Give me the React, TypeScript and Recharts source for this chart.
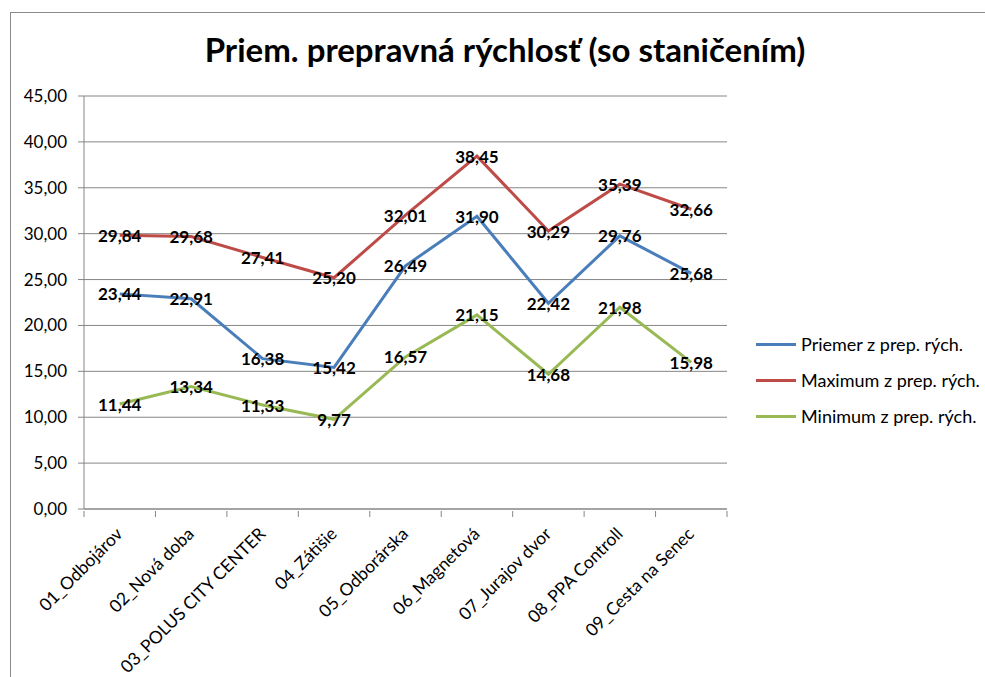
import React from "react";
import {
  LineChart,
  Line,
  XAxis,
  YAxis,
  CartesianGrid,
  Legend,
  LabelList,
} from "recharts";

const stops = [
  "01_Odbojárov",
  "02_Nová doba",
  "03_POLUS CITY CENTER",
  "04_Zátišie",
  "05_Odborárska",
  "06_Magnetová",
  "07_Jurajov dvor",
  "08_PPA Controll",
  "09_Cesta na Senec",
];
const priemer = [23.44, 22.91, 16.38, 15.42, 26.49, 31.9, 22.42, 29.76, 25.68];
const maximum = [29.84, 29.68, 27.41, 25.2, 32.01, 38.45, 30.29, 35.39, 32.66];
const minimum = [11.44, 13.34, 11.33, 9.77, 16.57, 21.15, 14.68, 21.98, 15.98];
const yTicks = [0, 5, 10, 15, 20, 25, 30, 35, 40, 45];

const series = [
  { key: "priemer", name: "Priemer z prep. rých.", color: "#4A7EBB" },
  { key: "maximum", name: "Maximum z prep. rých.", color: "#BE4B48" },
  { key: "minimum", name: "Minimum z prep. rých.", color: "#98B954" },
];

const data = stops.map((s, i) => ({
  stop: s,
  priemer: priemer[i],
  maximum: maximum[i],
  minimum: minimum[i],
}));

const FONT = "Lato, 'Open Sans', sans-serif";
const fmt = (v: number) => v.toFixed(2).replace(".", ",");

// plot area: x 84..727, y 96..509
const PLOT_W = 643;
const BAND = PLOT_W / stops.length;

const CatTick = (props: any) => {
  const { x, y, payload, index } = props;
  const last = index === stops.length - 1;
  return (
    <g>
      <line x1={x - BAND / 2} y1={y} x2={x - BAND / 2} y2={y + 6} stroke="#868686" />
      {last && <line x1={x + BAND / 2} y1={y} x2={x + BAND / 2} y2={y + 6} stroke="#868686" />}
      <text
        transform={`translate(${x + 4},${y + 24}) rotate(-45)`}
        textAnchor="end"
        fontSize={17.5}
        fontFamily={FONT}
        fill="#000"
      >
        {payload.value}
      </text>
    </g>
  );
};

const ValueLabel = (props: any) => {
  const { x, y, value } = props;
  return (
    <text
      x={x}
      y={y}
      textAnchor="middle"
      dominantBaseline="central"
      fontSize={17}
      fontWeight="bold"
      fontFamily={FONT}
      fill="#000"
    >
      {fmt(value)}
    </text>
  );
};

const LegendBox = () => (
  <div style={{ fontFamily: FONT, fontSize: 18, color: "#000" }}>
    {series.map((s) => (
      <div key={s.key} style={{ display: "flex", alignItems: "center", height: 36 }}>
        <div style={{ width: 40, height: 3, background: s.color, marginRight: 5 }} />
        <span>{s.name}</span>
      </div>
    ))}
  </div>
);

export default function App() {
  return (
    <div
      style={{
        position: "absolute",
        left: 0,
        top: 0,
        width: 985,
        height: 677,
        overflow: "hidden",
        background: "#fff",
      }}
    >
      <div
        style={{
          position: "absolute",
          left: 10,
          top: 12,
          width: 1100,
          height: 800,
          borderLeft: "1px solid #8a8a8a",
          borderTop: "1px solid #8a8a8a",
        }}
      />
      <div
        style={{
          position: "absolute",
          left: 0,
          top: 29,
          width: 1010,
          textAlign: "center",
          fontFamily: FONT,
          fontWeight: "bold",
          fontSize: 33,
          color: "#000",
        }}
      >
        Priem. prepravná rýchlosť (so staničením)
      </div>
      <div style={{ position: "absolute", left: 0, top: 0 }}>
        <LineChart
          width={985}
          height={677}
          data={data}
          margin={{ top: 96, right: 258, left: 10, bottom: 18 }}
        >
          <CartesianGrid vertical={false} stroke="#868686" />
          <XAxis
            dataKey="stop"
            interval={0}
            padding={{ left: BAND / 2, right: BAND / 2 }}
            height={150}
            tickSize={0}
            tickLine={false}
            axisLine={{ stroke: "#868686" }}
            tick={<CatTick />}
          />
          <YAxis
            width={74}
            domain={[0, 45]}
            ticks={yTicks}
            tickFormatter={fmt}
            tickSize={6}
            tickMargin={11}
            tickLine={{ stroke: "#868686" }}
            axisLine={{ stroke: "#868686" }}
            tick={{ fill: "#000", fontSize: 17, fontFamily: FONT }}
          />
          <Legend
            layout="vertical"
            align="center"
            verticalAlign="middle"
            content={<LegendBox />}
            wrapperStyle={{ left: 756, top: 326, width: 230 }}
          />
          {series.map((s) => (
            <Line
              key={s.key}
              type="linear"
              dataKey={s.key}
              name={s.name}
              stroke={s.color}
              strokeWidth={3}
              dot={false}
              isAnimationActive={false}
            >
              <LabelList dataKey={s.key} content={<ValueLabel />} />
            </Line>
          ))}
        </LineChart>
      </div>
    </div>
  );
}
